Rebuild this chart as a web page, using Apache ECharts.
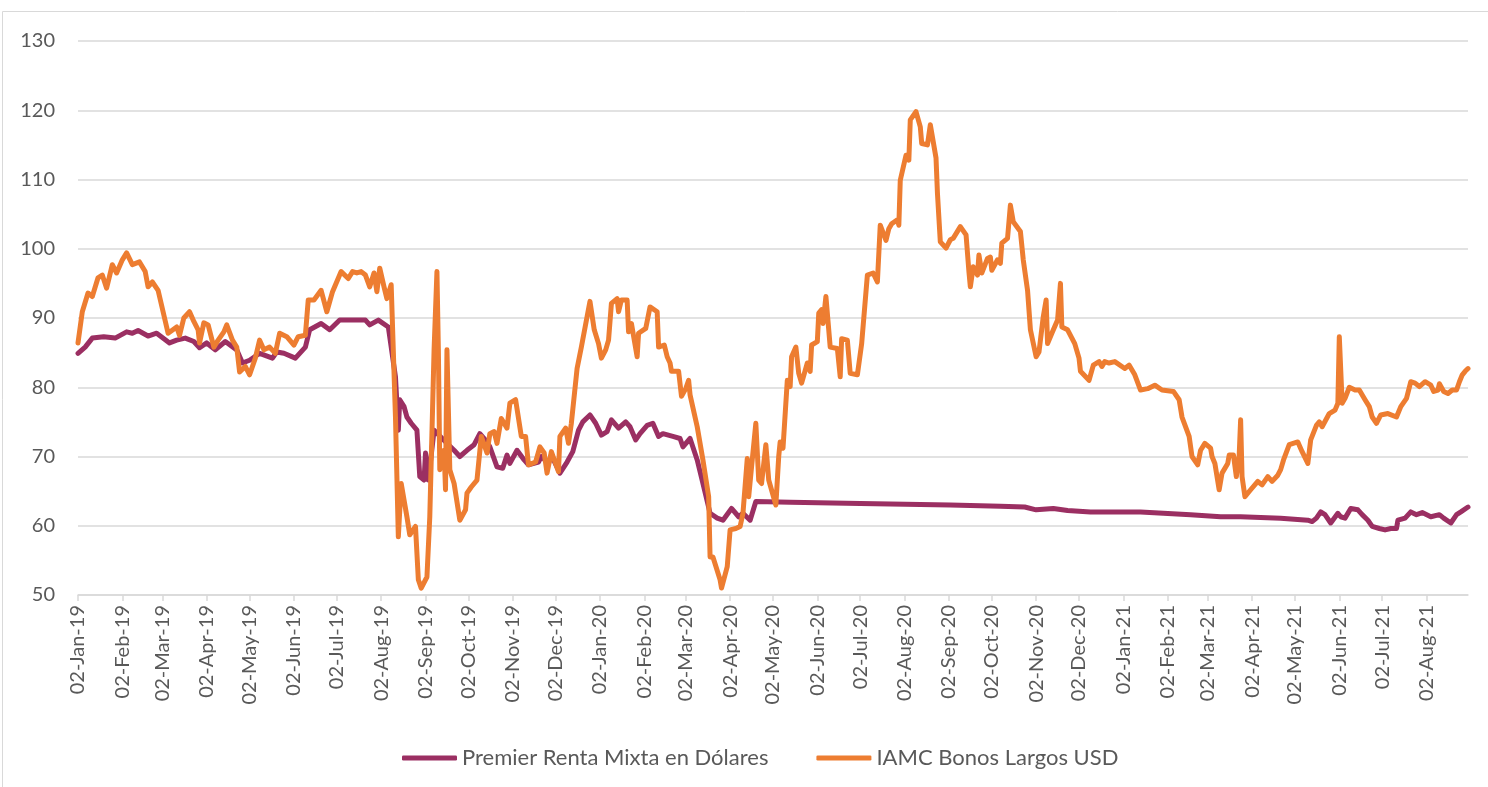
<!DOCTYPE html>
<html>
<head>
<meta charset="utf-8">
<script src="https://cdn.jsdelivr.net/npm/echarts@6/dist/echarts.min.js"></script>
<style>
  html, body { margin: 0; background: #fff; }
  #chart { width: 1488px; height: 787px; }
</style>
</head>
<body>
<div id="chart"></div>
<script>
// nombres de las series (leyenda)
const seriesNames = ['Premier Renta Mixta en Dólares', 'IAMC Bonos Largos USD'];

// etiquetas del eje x (una por mes)
const monthLabels = [
  '02-Jan-19', '02-Feb-19', '02-Mar-19', '02-Apr-19', '02-May-19', '02-Jun-19',
  '02-Jul-19', '02-Aug-19', '02-Sep-19', '02-Oct-19', '02-Nov-19', '02-Dec-19',
  '02-Jan-20', '02-Feb-20', '02-Mar-20', '02-Apr-20', '02-May-20', '02-Jun-20',
  '02-Jul-20', '02-Aug-20', '02-Sep-20', '02-Oct-20', '02-Nov-20', '02-Dec-20',
  '02-Jan-21', '02-Feb-21', '02-Mar-21', '02-Apr-21', '02-May-21', '02-Jun-21',
  '02-Jul-21', '02-Aug-21'
];
const firstDay = '2019-01-02';
const lastDay  = '2021-08-31';

// Premier Renta Mixta en Dólares
const premierPoints = [
  ['2019-01-02',84.9],['2019-01-07',85.8],['2019-01-12',87.1],['2019-01-20',87.3],['2019-01-28',87.1],
  ['2019-02-05',88.0],['2019-02-09',87.8],['2019-02-13',88.2],['2019-02-20',87.4],['2019-02-26',87.8],
  ['2019-03-07',86.4],['2019-03-12',86.8],['2019-03-18',87.1],['2019-03-24',86.6],['2019-03-28',85.7],
  ['2019-04-02',86.4],['2019-04-08',85.4],['2019-04-15',86.6],['2019-04-23',85.4],['2019-04-27',83.5],
  ['2019-05-02',83.9],['2019-05-09',84.9],['2019-05-18',84.2],['2019-05-21',85.1],['2019-05-26',84.9],
  ['2019-06-03',84.2],['2019-06-10',85.8],['2019-06-13',88.3],['2019-06-21',89.2],['2019-06-27',88.3],
  ['2019-07-04',89.7],['2019-07-14',89.7],['2019-07-22',89.7],['2019-07-25',89.0],['2019-07-31',89.7],
  ['2019-08-07',88.7],['2019-08-12',81.5],['2019-08-14',73.8],['2019-08-15',78.2],['2019-08-18',77.2],
  ['2019-08-20',75.7],['2019-08-23',74.8],['2019-08-27',73.8],['2019-08-29',67.1],['2019-09-01',66.6],
  ['2019-09-02',70.5],['2019-09-03',70.7],['2019-09-04',66.6],['2019-09-08',73.8],['2019-09-17',71.9],
  ['2019-09-22',70.9],['2019-09-26',70.0],['2019-10-01',70.9],['2019-10-06',71.7],['2019-10-10',73.3],
  ['2019-10-15',72.1],['2019-10-17',71.4],['2019-10-22',68.5],['2019-10-26',68.3],['2019-10-29',70.2],
  ['2019-10-31',69.0],['2019-11-05',70.9],['2019-11-10',69.5],['2019-11-13',68.8],['2019-11-20',69.2],
  ['2019-11-22',70.0],['2019-11-27',69.0],['2019-11-29',70.2],['2019-12-05',67.6],['2019-12-10',69.2],
  ['2019-12-14',70.7],['2019-12-18',73.8],['2019-12-21',75.0],['2019-12-26',76.0],['2019-12-30',74.8],
  ['2020-01-03',73.1],['2020-01-07',73.6],['2020-01-10',75.3],['2020-01-15',74.1],['2020-01-20',75.0],
  ['2020-01-23',74.3],['2020-01-27',72.4],['2020-01-30',73.3],['2020-02-04',74.5],['2020-02-08',74.8],
  ['2020-02-12',72.9],['2020-02-15',73.3],['2020-02-22',72.9],['2020-02-27',72.6],['2020-02-29',71.4],
  ['2020-03-05',72.6],['2020-03-10',69.5],['2020-03-14',66.1],['2020-03-19',61.8],['2020-03-24',61.1],
  ['2020-03-28',60.8],['2020-04-03',62.5],['2020-04-08',61.3],['2020-04-11',61.8],['2020-04-16',60.8],
  ['2020-04-20',63.5],['2020-05-14',63.4],['2020-07-02',63.2],['2020-09-03',63.0],['2020-10-08',62.8],
  ['2020-10-25',62.7],['2020-11-02',62.3],['2020-11-14',62.5],['2020-11-24',62.2],['2020-12-10',62.0],
  ['2021-01-14',62.0],['2021-02-18',61.6],['2021-03-11',61.3],['2021-03-25',61.3],['2021-04-22',61.1],
  ['2021-05-11',60.8],['2021-05-14',60.6],['2021-05-17',61.1],['2021-05-20',62.0],['2021-05-23',61.6],
  ['2021-05-27',60.4],['2021-06-01',61.8],['2021-06-03',61.3],['2021-06-06',61.1],['2021-06-10',62.5],
  ['2021-06-15',62.3],['2021-06-18',61.6],['2021-06-22',60.8],['2021-06-25',59.9],['2021-06-30',59.6],
  ['2021-07-04',59.4],['2021-07-08',59.6],['2021-07-12',59.6],['2021-07-13',60.8],['2021-07-18',61.1],
  ['2021-07-22',62.0],['2021-07-26',61.6],['2021-07-30',61.9],['2021-08-05',61.3],['2021-08-11',61.6],
  ['2021-08-14',61.1],['2021-08-19',60.4],['2021-08-23',61.6],['2021-08-26',62.0],['2021-08-31',62.7]
];

// IAMC Bonos Largos USD
const iamcPoints = [
  ['2019-01-02',86.4],['2019-01-05',90.9],['2019-01-09',93.6],['2019-01-12',93.1],['2019-01-16',95.8],
  ['2019-01-19',96.2],['2019-01-22',94.3],['2019-01-26',97.7],['2019-01-29',96.5],['2019-02-02',98.4],
  ['2019-02-05',99.4],['2019-02-09',97.7],['2019-02-14',98.1],['2019-02-18',96.7],['2019-02-20',94.5],
  ['2019-02-23',95.2],['2019-02-27',94.0],['2019-03-06',87.8],['2019-03-12',88.7],['2019-03-14',87.5],
  ['2019-03-17',90.0],['2019-03-21',90.9],['2019-03-24',89.5],['2019-03-27',88.3],['2019-03-28',86.4],
  ['2019-03-31',89.3],['2019-04-03',89.0],['2019-04-07',85.8],['2019-04-10',86.8],['2019-04-14',88.0],
  ['2019-04-16',89.0],['2019-04-20',86.8],['2019-04-23',85.8],['2019-04-25',82.2],['2019-04-29',83.0],
  ['2019-05-02',81.8],['2019-05-06',84.2],['2019-05-09',86.8],['2019-05-12',85.4],['2019-05-16',85.8],
  ['2019-05-20',84.9],['2019-05-23',87.8],['2019-05-28',87.3],['2019-06-02',86.1],['2019-06-05',87.3],
  ['2019-06-10',87.5],['2019-06-12',92.6],['2019-06-16',92.6],['2019-06-21',94.0],['2019-06-25',90.9],
  ['2019-06-29',93.8],['2019-07-05',96.7],['2019-07-10',95.7],['2019-07-13',96.7],['2019-07-16',96.5],
  ['2019-07-19',96.7],['2019-07-22',96.2],['2019-07-25',94.5],['2019-07-28',96.5],['2019-07-30',93.8],
  ['2019-08-01',97.2],['2019-08-04',94.5],['2019-08-06',92.8],['2019-08-09',94.8],['2019-08-12',75.7],
  ['2019-08-14',58.4],['2019-08-16',66.1],['2019-08-20',61.3],['2019-08-22',58.7],['2019-08-26',59.9],
  ['2019-08-28',52.2],['2019-08-30',51.0],['2019-09-03',52.6],['2019-09-05',61.3],['2019-09-08',85.4],
  ['2019-09-10',96.7],['2019-09-11',85.4],['2019-09-12',68.1],['2019-09-15',70.9],['2019-09-16',65.2],
  ['2019-09-17',85.4],['2019-09-19',68.1],['2019-09-22',66.1],['2019-09-26',60.8],['2019-09-30',62.3],
  ['2019-10-01',64.7],['2019-10-04',65.6],['2019-10-08',66.6],['2019-10-11',72.9],['2019-10-15',70.5],
  ['2019-10-17',73.3],['2019-10-20',73.6],['2019-10-22',71.9],['2019-10-25',75.5],['2019-10-29',74.1],
  ['2019-10-31',77.7],['2019-11-04',78.2],['2019-11-08',72.9],['2019-11-11',72.9],['2019-11-13',68.8],
  ['2019-11-18',69.2],['2019-11-21',71.4],['2019-11-24',70.5],['2019-11-26',67.6],['2019-11-29',70.7],
  ['2019-12-04',67.8],['2019-12-05',72.9],['2019-12-09',74.1],['2019-12-11',71.9],['2019-12-13',74.8],
  ['2019-12-17',82.7],['2019-12-20',85.8],['2019-12-26',92.4],['2019-12-29',88.3],['2020-01-01',86.3],
  ['2020-01-03',84.2],['2020-01-06',85.4],['2020-01-08',86.8],['2020-01-10',92.1],['2020-01-14',92.8],
  ['2020-01-15',90.9],['2020-01-17',92.6],['2020-01-21',92.6],['2020-01-22',88.0],['2020-01-24',89.2],
  ['2020-01-28',84.4],['2020-01-29',87.8],['2020-02-03',88.5],['2020-02-06',91.6],['2020-02-11',90.9],
  ['2020-02-12',85.8],['2020-02-16',86.1],['2020-02-18',84.4],['2020-02-20',83.5],['2020-02-21',82.3],
  ['2020-02-26',82.3],['2020-02-28',78.7],['2020-03-02',79.8],['2020-03-04',81.0],['2020-03-05',78.9],
  ['2020-03-10',74.3],['2020-03-14',69.5],['2020-03-18',64.2],['2020-03-19',55.5],['2020-03-21',55.5],
  ['2020-03-26',52.2],['2020-03-27',51.0],['2020-03-31',54.1],['2020-04-02',59.4],['2020-04-06',59.6],
  ['2020-04-09',59.9],['2020-04-11',61.8],['2020-04-14',69.7],['2020-04-15',64.2],['2020-04-17',68.5],
  ['2020-04-20',74.8],['2020-04-22',66.6],['2020-04-24',66.1],['2020-04-27',71.7],['2020-04-29',66.6],
  ['2020-05-04',63.0],['2020-05-06',70.0],['2020-05-07',72.1],['2020-05-09',71.2],['2020-05-12',81.0],
  ['2020-05-14',80.1],['2020-05-15',84.4],['2020-05-18',85.8],['2020-05-20',82.0],['2020-05-22',80.6],
  ['2020-05-26',83.5],['2020-05-28',82.3],['2020-05-29',86.1],['2020-06-02',86.6],['2020-06-03',90.7],
  ['2020-06-05',91.2],['2020-06-06',89.2],['2020-06-08',93.1],['2020-06-11',85.8],['2020-06-16',85.6],
  ['2020-06-18',81.5],['2020-06-19',87.0],['2020-06-23',86.8],['2020-06-25',82.0],['2020-06-30',81.8],
  ['2020-07-03',86.3],['2020-07-07',96.2],['2020-07-11',96.5],['2020-07-14',95.2],['2020-07-16',103.4],
  ['2020-07-20',101.2],['2020-07-22',102.9],['2020-07-24',103.6],['2020-07-28',104.2],['2020-07-29',103.4],
  ['2020-07-30',109.9],['2020-08-03',113.5],['2020-08-05',112.8],['2020-08-06',118.6],['2020-08-10',119.8],
  ['2020-08-13',117.6],['2020-08-14',115.2],['2020-08-18',115.0],['2020-08-20',117.9],['2020-08-24',113.1],
  ['2020-08-25',108.0],['2020-08-27',101.0],['2020-08-31',100.1],['2020-09-03',101.3],['2020-09-05',101.5],
  ['2020-09-10',103.2],['2020-09-14',102.0],['2020-09-16',96.7],['2020-09-17',94.5],['2020-09-19',97.4],
  ['2020-09-22',96.2],['2020-09-23',99.1],['2020-09-25',96.5],['2020-09-29',98.6],['2020-10-01',98.8],
  ['2020-10-02',96.9],['2020-10-06',98.4],['2020-10-08',97.9],['2020-10-09',100.8],['2020-10-13',101.5],
  ['2020-10-15',106.3],['2020-10-17',103.9],['2020-10-22',102.5],['2020-10-24',98.4],['2020-10-27',94.0],
  ['2020-10-29',88.3],['2020-11-02',84.4],['2020-11-04',85.1],['2020-11-07',90.2],['2020-11-09',92.6],
  ['2020-11-10',86.3],['2020-11-13',87.8],['2020-11-17',89.7],['2020-11-19',95.0],['2020-11-20',88.7],
  ['2020-11-24',88.3],['2020-11-27',87.1],['2020-11-29',86.3],['2020-12-02',84.2],['2020-12-03',82.3],
  ['2020-12-09',81.0],['2020-12-12',83.2],['2020-12-16',83.7],['2020-12-18',83.0],['2020-12-20',83.7],
  ['2020-12-23',83.5],['2020-12-27',83.7],['2021-01-03',82.7],['2021-01-06',83.2],['2021-01-10',81.8],
  ['2021-01-14',79.6],['2021-01-19',79.8],['2021-01-24',80.3],['2021-01-29',79.6],['2021-02-06',79.4],
  ['2021-02-10',78.2],['2021-02-12',75.7],['2021-02-17',72.9],['2021-02-19',70.0],['2021-02-23',68.8],
  ['2021-02-25',70.9],['2021-02-28',71.9],['2021-03-04',71.2],['2021-03-05',70.0],['2021-03-07',69.0],
  ['2021-03-10',65.2],['2021-03-12',67.6],['2021-03-16',69.0],['2021-03-17',70.2],['2021-03-20',70.2],
  ['2021-03-22',67.1],['2021-03-24',70.2],['2021-03-25',75.3],['2021-03-26',67.1],['2021-03-28',64.2],
  ['2021-04-01',65.2],['2021-04-06',66.4],['2021-04-09',65.9],['2021-04-13',67.1],['2021-04-16',66.4],
  ['2021-04-20',67.3],['2021-04-22',68.1],['2021-04-24',69.5],['2021-04-28',71.7],['2021-05-04',72.1],
  ['2021-05-07',70.7],['2021-05-11',69.0],['2021-05-13',72.4],['2021-05-17',74.5],['2021-05-19',75.0],
  ['2021-05-21',74.3],['2021-05-26',76.2],['2021-05-30',76.7],['2021-06-01',77.7],['2021-06-02',87.3],
  ['2021-06-04',77.7],['2021-06-06',78.4],['2021-06-09',80.0],['2021-06-13',79.6],['2021-06-16',79.6],
  ['2021-06-20',78.2],['2021-06-23',77.2],['2021-06-25',75.7],['2021-06-28',74.8],['2021-07-01',76.0],
  ['2021-07-06',76.2],['2021-07-12',75.7],['2021-07-15',77.2],['2021-07-19',78.4],['2021-07-22',80.8],
  ['2021-07-25',80.6],['2021-07-28',80.1],['2021-08-01',80.8],['2021-08-05',80.3],['2021-08-07',79.4],
  ['2021-08-10',79.6],['2021-08-11',80.5],['2021-08-14',79.4],['2021-08-17',79.1],['2021-08-20',79.6],
  ['2021-08-23',79.6],['2021-08-25',80.8],['2021-08-27',81.8],['2021-08-29',82.3],['2021-08-31',82.7]
];

const MESES = ['Jan','Feb','Mar','Apr','May','Jun','Jul','Aug','Sep','Oct','Nov','Dec'];
const FONT = 'Lato';
const GRIS = '#595959';

let isoToTime = (s) => {
    let p = s.split('-').map(Number);
    return Date.UTC(p[0], p[1] - 1, p[2]);
};
let labelToTime = (l) => {
    let p = l.split('-');
    return Date.UTC(2000 + Number(p[2]), MESES.indexOf(p[1]), Number(p[0]));
};
let timeToLabel = (t) => {
    let d = new Date(t);
    return String(d.getUTCDate()).padStart(2, '0') + '-' + MESES[d.getUTCMonth()] + '-' +
           String(d.getUTCFullYear() % 100).padStart(2, '0');
};
let toData = (pts) => pts.map(p => [isoToTime(p[0]), p[1]]);

const tickTimes = monthLabels.map(labelToTime);

let myChart = echarts.init(document.getElementById('chart'));
myChart.setOption({
    animation: false,
    color: ['#9B2F62', '#ED7D31'],
    graphic: [{
        type: 'rect',
        shape: { x: 2.5, y: 11.5, width: 1500, height: 800 },
        style: { fill: 'none', stroke: '#d9d9d9', lineWidth: 1 },
        silent: true
    }],
    grid: { left: 78, right: 20, top: 41, bottom: 192, outerBoundsMode: 'none' },
    legend: {
        data: seriesNames,
        left: 397,
        top: 742,
        icon: 'roundRect',
        itemWidth: 55,
        itemHeight: 5,
        itemGap: 48,
        textStyle: { fontFamily: FONT, fontSize: 22, color: GRIS }
    },
    // eje de fechas como eje numerico (milisegundos) para fijar las marcas el dia 2 de cada mes
    xAxis: {
        type: 'value',
        min: isoToTime(firstDay),
        max: isoToTime(lastDay),
        axisLine: { lineStyle: { color: '#d9d9d9', width: 1.5 } },
        axisTick: { show: true, customValues: tickTimes, length: 6, lineStyle: { color: '#d9d9d9', width: 1.5 } },
        axisLabel: {
            customValues: tickTimes,
            rotate: 90,
            margin: 10,
            fontFamily: FONT,
            fontSize: 20,
            color: GRIS,
            formatter: (v) => timeToLabel(v)
        },
        splitLine: { show: false }
    },
    yAxis: {
        type: 'value',
        min: 50,
        max: 130,
        interval: 10,
        axisLine: { show: false },
        axisTick: { show: false },
        axisLabel: { margin: 23, fontFamily: FONT, fontSize: 20, color: GRIS },
        splitLine: { lineStyle: { color: '#d9d9d9', width: 1.5 } }
    },
    series: [{
        name: seriesNames[0],
        type: 'line',
        data: toData(premierPoints),
        showSymbol: false,
        lineStyle: { width: 5, cap: 'round', join: 'round' }
    }, {
        name: seriesNames[1],
        type: 'line',
        data: toData(iamcPoints),
        showSymbol: false,
        lineStyle: { width: 5, cap: 'round', join: 'round' }
    }]
});
</script>
</body>
</html>
